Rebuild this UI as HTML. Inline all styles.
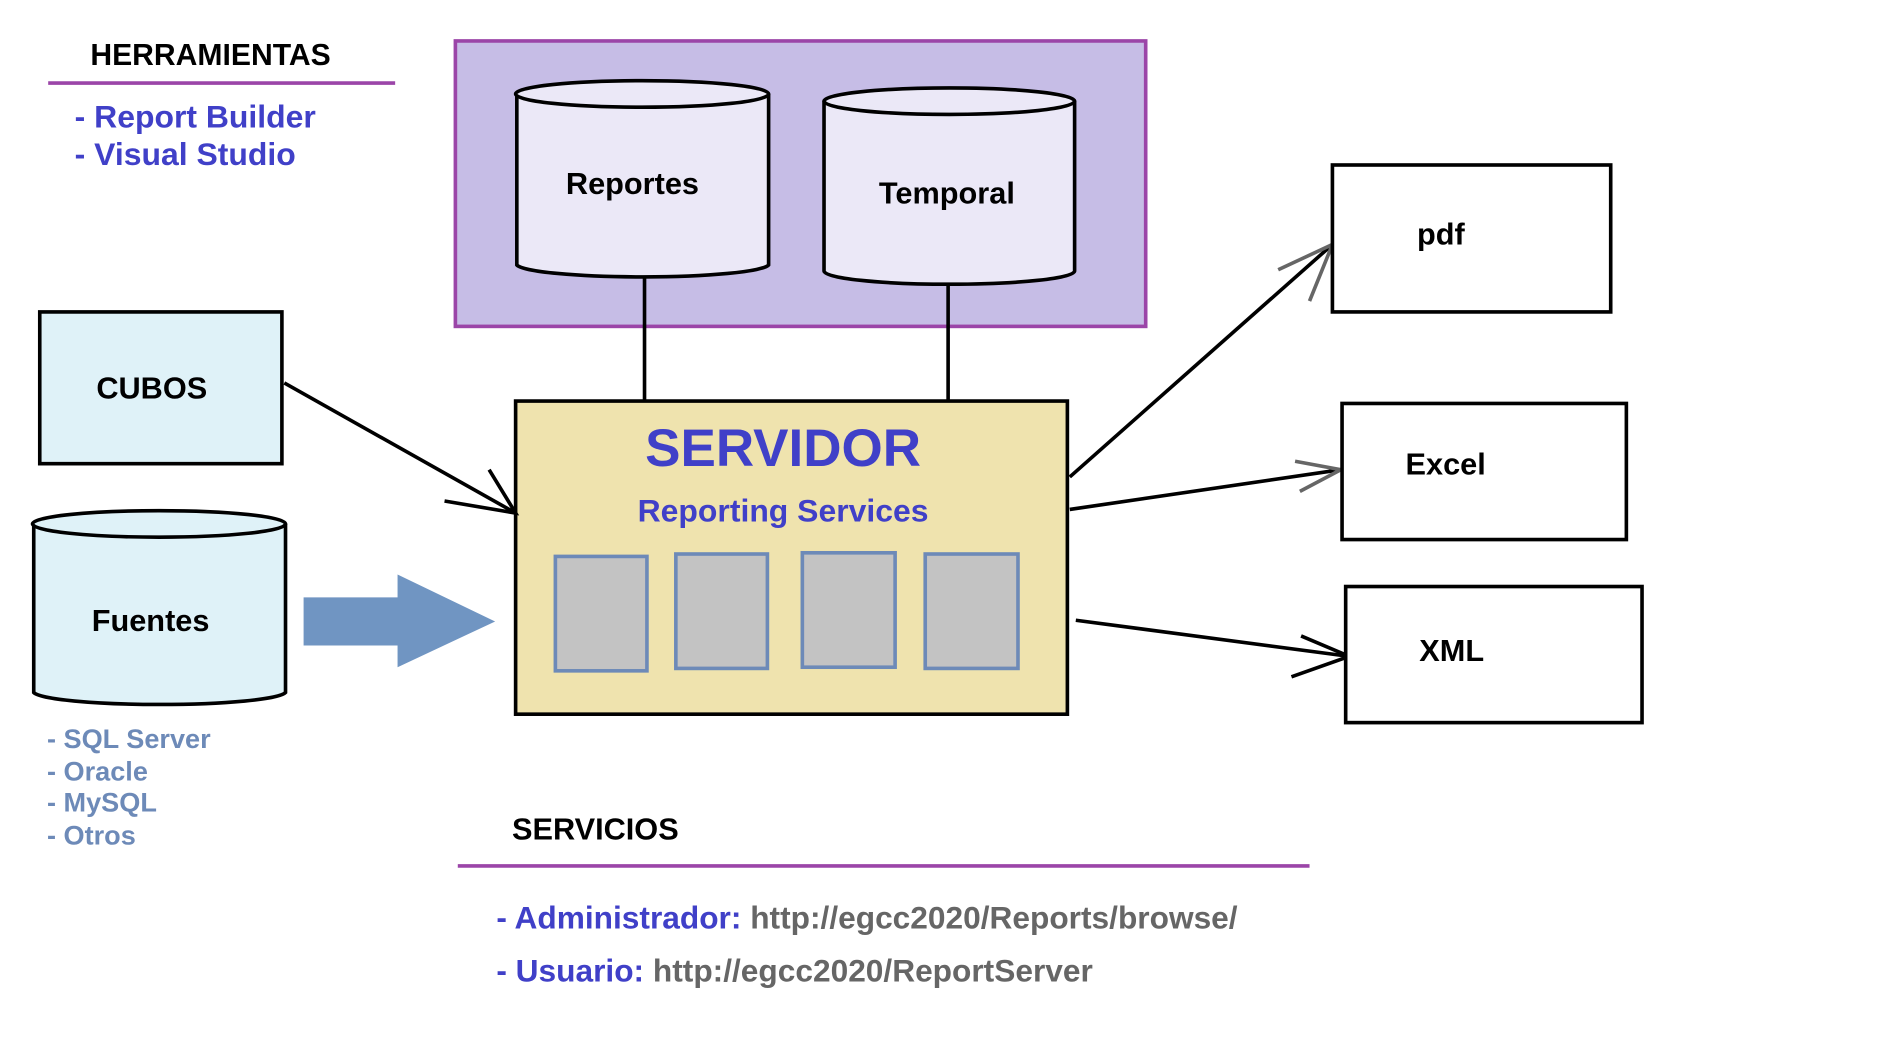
<!DOCTYPE html>
<html><head><meta charset="utf-8"><style>html,body{margin:0;padding:0;background:#fff;}svg{display:block}</style></head>
<body>
<svg width="1889" height="1049" viewBox="0 0 1568 871" preserveAspectRatio="none" xmlns="http://www.w3.org/2000/svg" font-family="Liberation Sans, Arial, sans-serif" font-weight="bold">
<rect width="1568" height="871" fill="#fff"/>
<text x="75" y="54" font-size="25" fill="#000">HERRAMIENTAS</text>
<line x1="40" y1="69" x2="328" y2="69" stroke="#9b45a8" stroke-width="3"/>
<text x="62" y="106" font-size="26.5" fill="#4040c8">- Report Builder</text>
<text x="62" y="137" font-size="26.5" fill="#4040c8">- Visual Studio</text>
<rect x="378" y="34" width="573" height="237" fill="#c6bde6" stroke="#9b45a8" stroke-width="3"/>
<line x1="535" y1="230" x2="535" y2="333" stroke="#000" stroke-width="3"/>
<line x1="787" y1="235" x2="787" y2="333" stroke="#000" stroke-width="3"/>
<path d="M429 78 V220 A105 11 0 0 0 638 220 V78" fill="#ebe8f7" stroke="#000" stroke-width="3"/>
<ellipse cx="533" cy="78" rx="105" ry="11" fill="#ebe8f7" stroke="#000" stroke-width="3"/>
<text x="525" y="161" font-size="25.5" text-anchor="middle">Reportes</text>
<path d="M684 84 V225 A104 11 0 0 0 892 225 V84" fill="#ebe8f7" stroke="#000" stroke-width="3"/>
<ellipse cx="788" cy="84" rx="104" ry="11" fill="#ebe8f7" stroke="#000" stroke-width="3"/>
<text x="786" y="169" font-size="25.5" text-anchor="middle">Temporal</text>
<rect x="33" y="259" width="201" height="126" fill="#dff2f8" stroke="#000" stroke-width="3"/>
<text x="126" y="331" font-size="25.5" text-anchor="middle">CUBOS</text>
<path d="M28 435 V575 A105 11 0 0 0 237 575 V435" fill="#dff2f8" stroke="#000" stroke-width="3"/>
<ellipse cx="132" cy="435" rx="105" ry="11" fill="#dff2f8" stroke="#000" stroke-width="3"/>
<text x="125" y="524" font-size="25.5" text-anchor="middle">Fuentes</text>
<g font-size="22.5" fill="#6d8ab8">
<text x="39" y="621">- SQL Server</text>
<text x="39" y="648">- Oracle</text>
<text x="39" y="674">- MySQL</text>
<text x="39" y="701">- Otros</text>
</g>
<polygon points="252,496 330,496 330,477 411,516 330,554 330,536 252,536" fill="#7095c2"/>
<rect x="428" y="333" width="458" height="260" fill="#efe3ae" stroke="#000" stroke-width="3"/>
<text x="650" y="387" font-size="44" fill="#4040c8" text-anchor="middle">SERVIDOR</text>
<text x="650" y="433" font-size="26.5" fill="#4040c8" text-anchor="middle">Reporting Services</text>
<g fill="#c3c3c3" stroke="#6d8ab8" stroke-width="3">
<rect x="461" y="462" width="76" height="95"/>
<rect x="561" y="460" width="76" height="95"/>
<rect x="666" y="459" width="77" height="95"/>
<rect x="768" y="460" width="77" height="95"/>
</g>
<g stroke="#000" stroke-width="3" fill="none">
<line x1="236" y1="318" x2="428" y2="426"/>
<polyline points="406,390 428,426 369,416"/>
<line x1="888" y1="396" x2="1106" y2="203"/>
<line x1="888" y1="423" x2="1113" y2="390"/>
<line x1="893" y1="515" x2="1120" y2="545"/>
<polyline points="1080,528 1120,545 1072,562"/>
</g>
<g stroke="#666" stroke-width="3" fill="none">
<polyline points="1061,224 1106,203 1087,250"/>
<polyline points="1075,383 1113,390 1079,408"/>
</g>
<rect x="1106" y="137" width="231" height="122" fill="#fff" stroke="#000" stroke-width="3"/>
<text x="1196" y="203" font-size="25.5" text-anchor="middle">pdf</text>
<rect x="1114" y="335" width="236" height="113" fill="#fff" stroke="#000" stroke-width="3"/>
<text x="1200" y="394" font-size="25.5" text-anchor="middle">Excel</text>
<rect x="1117" y="487" width="246" height="113" fill="#fff" stroke="#000" stroke-width="3"/>
<text x="1205" y="549" font-size="25.5" text-anchor="middle">XML</text>
<text x="425" y="697" font-size="25.5">SERVICIOS</text>
<line x1="380" y1="719" x2="1087" y2="719" stroke="#9b45a8" stroke-width="3"/>
<text x="412" y="771" font-size="26.3"><tspan fill="#4040c8">- Administrador: </tspan><tspan fill="#666">http://egcc2020/Reports/browse/</tspan></text>
<text x="412" y="815" font-size="26.3"><tspan fill="#4040c8">- Usuario: </tspan><tspan fill="#666">http://egcc2020/ReportServer</tspan></text>
</svg>
</body></html>
